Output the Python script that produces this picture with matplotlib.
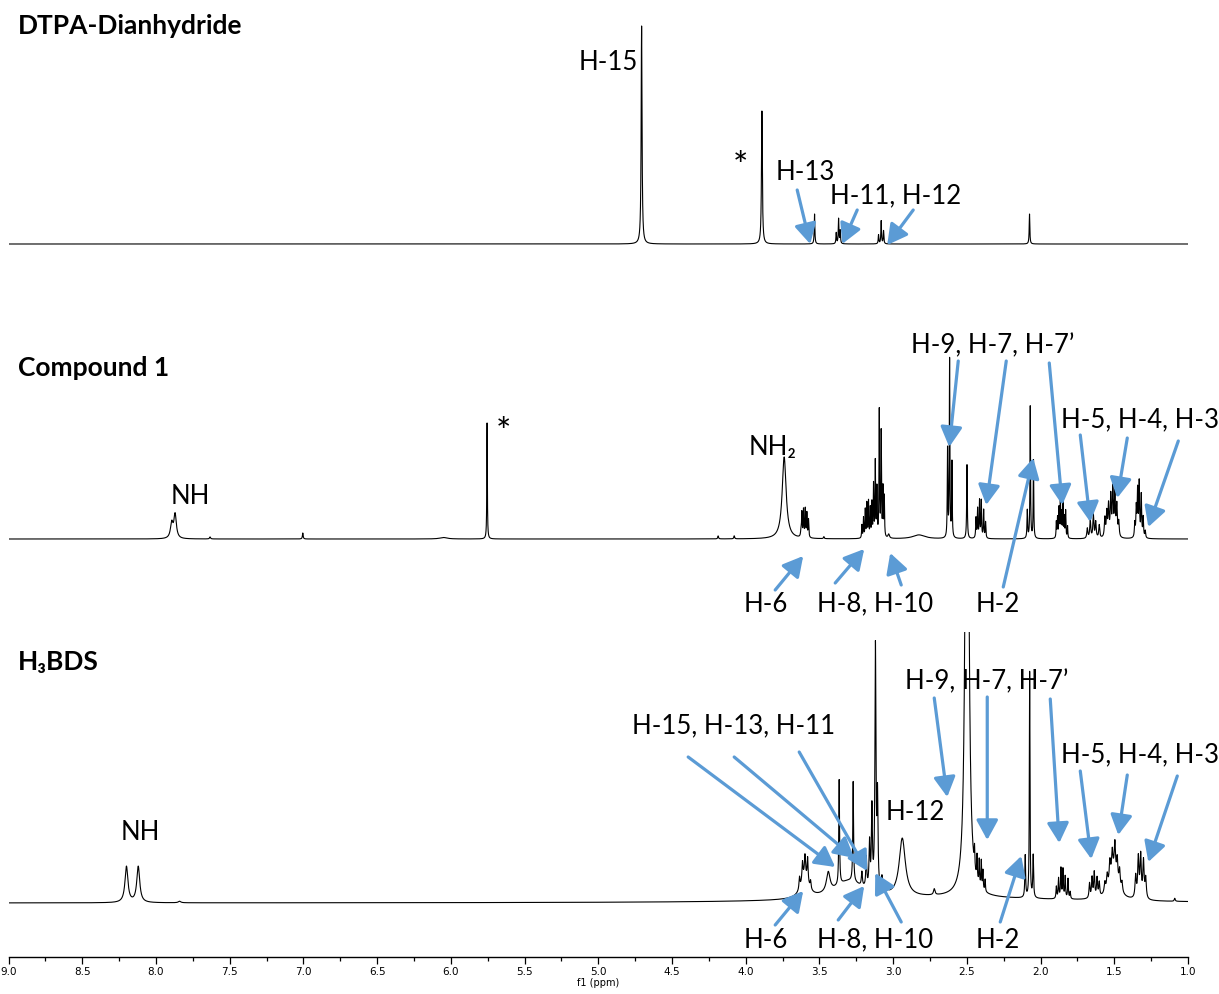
import numpy as np
import matplotlib
matplotlib.use("Agg")
import matplotlib.pyplot as plt
from matplotlib.patches import Rectangle
from matplotlib.ticker import MultipleLocator, FormatStrFormatter

# ---------------- data ----------------
# DTPA-Dianhydride: peak centres (ppm), heights (px), half-widths (ppm)
dtpa_ppm = [4.706, 3.890, 3.533, 3.386, 3.370, 3.359, 3.099, 3.081, 3.065, 2.075]
dtpa_height = [218, 133, 30, 11, 25, 13, 9, 23, 13, 30]
dtpa_hwhm = [0.0035, 0.0035, 0.0025, 0.0025, 0.0025, 0.0025, 0.0025, 0.0025, 0.0025, 0.0025]

# Compound 1
cmp1_ppm = [7.893, 7.870, 7.633, 7.004, 6.050, 5.754, 4.187, 4.078, 3.739,
            3.625, 3.619, 3.608, 3.596, 3.585, 3.574, 3.470,
            3.212, 3.201, 3.189, 3.178, 3.167, 3.155, 3.144, 3.133, 3.121, 3.110,
            3.094, 3.081, 3.069, 3.060, 3.030, 2.825,
            2.631, 2.617, 2.601, 2.499,
            2.438, 2.427, 2.414, 2.402, 2.386, 2.373,
            2.090, 2.070, 2.048,
            1.893, 1.885, 1.875, 1.866, 1.857, 1.848, 1.839, 1.830, 1.817,
            1.683, 1.663, 1.642, 1.626, 1.602,
            1.564, 1.551, 1.539, 1.524, 1.510, 1.496, 1.483, 1.470,
            1.361, 1.351, 1.342, 1.331, 1.317, 1.304, 1.290]
cmp1_height = [15, 24, 2, 6, 1.5, 116, 3, 3, 82,
               6, 24, 27, 28, 24, 18, 2,
               13, 20, 28, 34, 36, 29, 34, 52, 75, 48,
               126, 104, 48, 40, 4, 4,
               88, 178, 75, 74,
               20, 29, 37, 37, 28, 16,
               28, 132, 78,
               16, 20, 29, 42, 24, 35, 20, 27, 12,
               10, 18, 23, 16, 13,
               19, 24, 31, 40, 47, 42, 31, 15,
               14, 29, 46, 54, 42, 20, 7]
cmp1_hwhm = [0.010, 0.010, 0.004, 0.003, 0.030, 0.002, 0.003, 0.003, 0.016,
             0.003, 0.0025, 0.0025, 0.0025, 0.0025, 0.0025, 0.003,
             0.0022, 0.0022, 0.0022, 0.0022, 0.0022, 0.0022, 0.0022, 0.0022, 0.0022, 0.0022,
             0.0022, 0.0022, 0.0022, 0.0022, 0.006, 0.050,
             0.0022, 0.0022, 0.0022, 0.0025,
             0.0025, 0.0025, 0.0025, 0.0025, 0.0025, 0.0025,
             0.0025, 0.0022, 0.0022,
             0.0022, 0.0022, 0.0022, 0.0022, 0.0022, 0.0022, 0.0022, 0.0022, 0.0022,
             0.004, 0.004, 0.004, 0.004, 0.004,
             0.004, 0.004, 0.004, 0.004, 0.004, 0.004, 0.004, 0.004,
             0.003, 0.003, 0.003, 0.003, 0.003, 0.003, 0.003]

# H3BDS
bds_ppm = [8.200, 8.120, 7.840, 2.600,
           3.600, 3.635, 3.615, 3.598, 3.580, 3.560, 3.440, 3.300,
           3.366, 3.271, 3.212, 3.182, 3.160, 3.144, 3.120, 3.106, 3.076, 3.042,
           2.938, 2.721, 2.499,
           2.448, 2.431, 2.416, 2.402, 2.391, 2.376,
           2.104, 2.074, 2.050,
           1.893, 1.878, 1.862, 1.848, 1.833, 1.814, 1.799,
           1.668, 1.651, 1.636, 1.617, 1.602,
           1.505, 1.564, 1.548, 1.530, 1.514, 1.496, 1.480, 1.464, 1.448,
           1.355, 1.337, 1.321, 1.302, 1.287, 1.090]
bds_height = [36, 36, 1.5, 5,
              22, 12, 18, 20, 24, 8, 20, 18,
              105, 100, 14, 30, 45, 80, 242, 90, 14, 8,
              58, 6, 900,
              20, 24, 25, 27, 19, 12,
              42, 226, 42,
              12, 20, 30, 29, 22, 20, 7,
              15, 20, 25, 19, 14,
              28, 10, 14, 20, 22, 30, 22, 18, 10,
              22, 40, 42, 37, 20, 3]
bds_hwhm = [0.012, 0.012, 0.010, 0.900,
            0.030, 0.004, 0.004, 0.004, 0.004, 0.004, 0.015, 0.120,
            0.003, 0.003, 0.004, 0.004, 0.004, 0.004, 0.004, 0.004, 0.004, 0.004,
            0.025, 0.006, 0.010,
            0.0025, 0.0025, 0.0025, 0.0025, 0.0025, 0.0025,
            0.003, 0.0025, 0.003,
            0.003, 0.003, 0.003, 0.003, 0.003, 0.003, 0.003,
            0.004, 0.004, 0.004, 0.004, 0.004,
            0.035, 0.005, 0.005, 0.005, 0.005, 0.005, 0.005, 0.005, 0.005,
            0.005, 0.005, 0.005, 0.005, 0.005, 0.004]

spectrum_names = ["DTPA-Dianhydride", "Compound 1", "H\u2083BDS"]
x_ticks_major = 0.5
x_ticks_minor = 0.25
x_range = (9.0, 1.0)

# ---------------- figure ----------------
W, H = 1219, 994
fig = plt.figure(figsize=(W / 100, H / 100), dpi=100)
AX_Y = 957  # pixel row of the ppm axis
ax = fig.add_axes([8.5 / W, (H - AX_Y) / H, (1188 - 8.5) / W, AX_Y / H])
ax.set_xlim(*x_range)
ax.set_ylim(0, AX_Y)

LBL = ["Lato", "DejaVu Sans"]
BLUE = "#5B9BD5"


def px(x, y):
    """pixel position in the picture -> (ppm, axis units)"""
    return 9.0 - (x - 8.5) / 147.4, AX_Y - y


grid = np.linspace(9.0, 1.0, 60001)


def render(centers, heights, hwhm):
    c = np.asarray(centers)[:, None]
    h = np.asarray(heights)[:, None]
    w = np.asarray(hwhm)[:, None]
    return (h / (1.0 + ((grid[None, :] - c) / w) ** 2)).sum(axis=0)


base_top = AX_Y - 244
base_mid = AX_Y - 539
base_bot = AX_Y - 903

ax.plot(grid, base_top + render(dtpa_ppm, dtpa_height, dtpa_hwhm), color="black", lw=0.8)
ax.plot(grid, base_mid + render(cmp1_ppm, cmp1_height, cmp1_hwhm), color="black", lw=0.8)
ln, = ax.plot(grid, base_bot + render(bds_ppm, bds_height, bds_hwhm), color="black", lw=0.8)
clip = Rectangle((9.0, 0), -8.0, AX_Y - 632, transform=ax.transData)
ln.set_clip_path(clip)

# axis styling
for s in ["top", "right", "left"]:
    ax.spines[s].set_visible(False)
ax.spines["bottom"].set_linewidth(1.0)
ax.set_yticks([])
ax.xaxis.set_major_locator(MultipleLocator(x_ticks_major))
ax.xaxis.set_minor_locator(MultipleLocator(x_ticks_minor))
ax.xaxis.set_major_formatter(FormatStrFormatter("%.1f"))
ax.tick_params(axis="x", which="major", direction="out", length=5, width=0.9, pad=2,
               labelsize=7.5)
ax.tick_params(axis="x", which="minor", direction="out", length=3, width=0.9)
for t in ax.get_xticklabels():
    t.set_family(["Liberation Sans Narrow", "DejaVu Sans"])
ax.set_xlabel("f1 (ppm)", fontsize=7, labelpad=1,
              family=["Liberation Sans Narrow", "DejaVu Sans"])

# titles
for name, yy in zip(spectrum_names, [26, 368, 662]):
    ax.text(*px(18, yy), name, fontsize=19, fontweight="bold", family=LBL,
            ha="left", va="center")

FS = 18.5


def label(x, y, s, ha="center", fs=FS):
    ax.text(*px(x, y), s, fontsize=fs, family=LBL, ha=ha, va="center")


def arrow(x0, y0, x1, y1):
    ax.annotate("", xy=px(x1, y1), xytext=px(x0, y0),
                arrowprops=dict(arrowstyle="-|>,head_length=0.55,head_width=0.3",
                                color=BLUE, lw=2.3, shrinkA=0, shrinkB=0,
                                mutation_scale=22))


# top spectrum
label(608, 62, "H-15")
label(740, 168, "*", fs=26)
label(805, 172, "H-13")
label(895, 196, "H-11, H-12")
arrow(797, 190, 810, 244)
arrow(857, 210, 842, 244)
arrow(913, 210, 887, 245)

# middle spectrum
label(190, 496, "NH")
label(503, 433, "*", fs=26)
label(748, 447, "NH\u2082", ha="left")
label(992, 346, "H-9, H-7, H-7\u2019")
label(1140, 420, "H-5, H-4, H-3")
label(766, 604, "H-6")
label(875, 604, "H-8, H-10")
label(997, 604, "H-2")
for a in [(958, 361, 949, 447), (1006, 361, 986, 505), (1049, 363, 1062, 505),
          (1080, 435, 1090, 522), (1127, 438, 1117, 498), (1178, 441, 1148, 527),
          (775, 590, 803, 556), (835, 583, 864, 549), (901, 585, 890, 553),
          (1003, 587, 1033, 458)]:
    arrow(*a)

# bottom spectrum
label(140, 833, "NH")
label(733, 726, "H-15, H-13, H-11")
label(915, 812, "H-12")
label(986, 682, "H-9, H-7, H-7\u2019")
label(1140, 755, "H-5, H-4, H-3")
label(766, 940, "H-6")
label(875, 940, "H-8, H-10")
label(997, 940, "H-2")
for a in [(688, 757, 835, 867), (734, 757, 854, 858), (799, 752, 867, 871),
          (934, 698, 947, 797), (987, 697, 987, 840), (1050, 699, 1059, 843),
          (1080, 771, 1091, 859), (1127, 775, 1118, 835), (1177, 776, 1148, 862),
          (1000, 922, 1021, 856), (775, 925, 803, 891), (838, 920, 864, 886),
          (901, 922, 875, 873)]:
    arrow(*a)

fig.savefig("out.png", dpi=100)
